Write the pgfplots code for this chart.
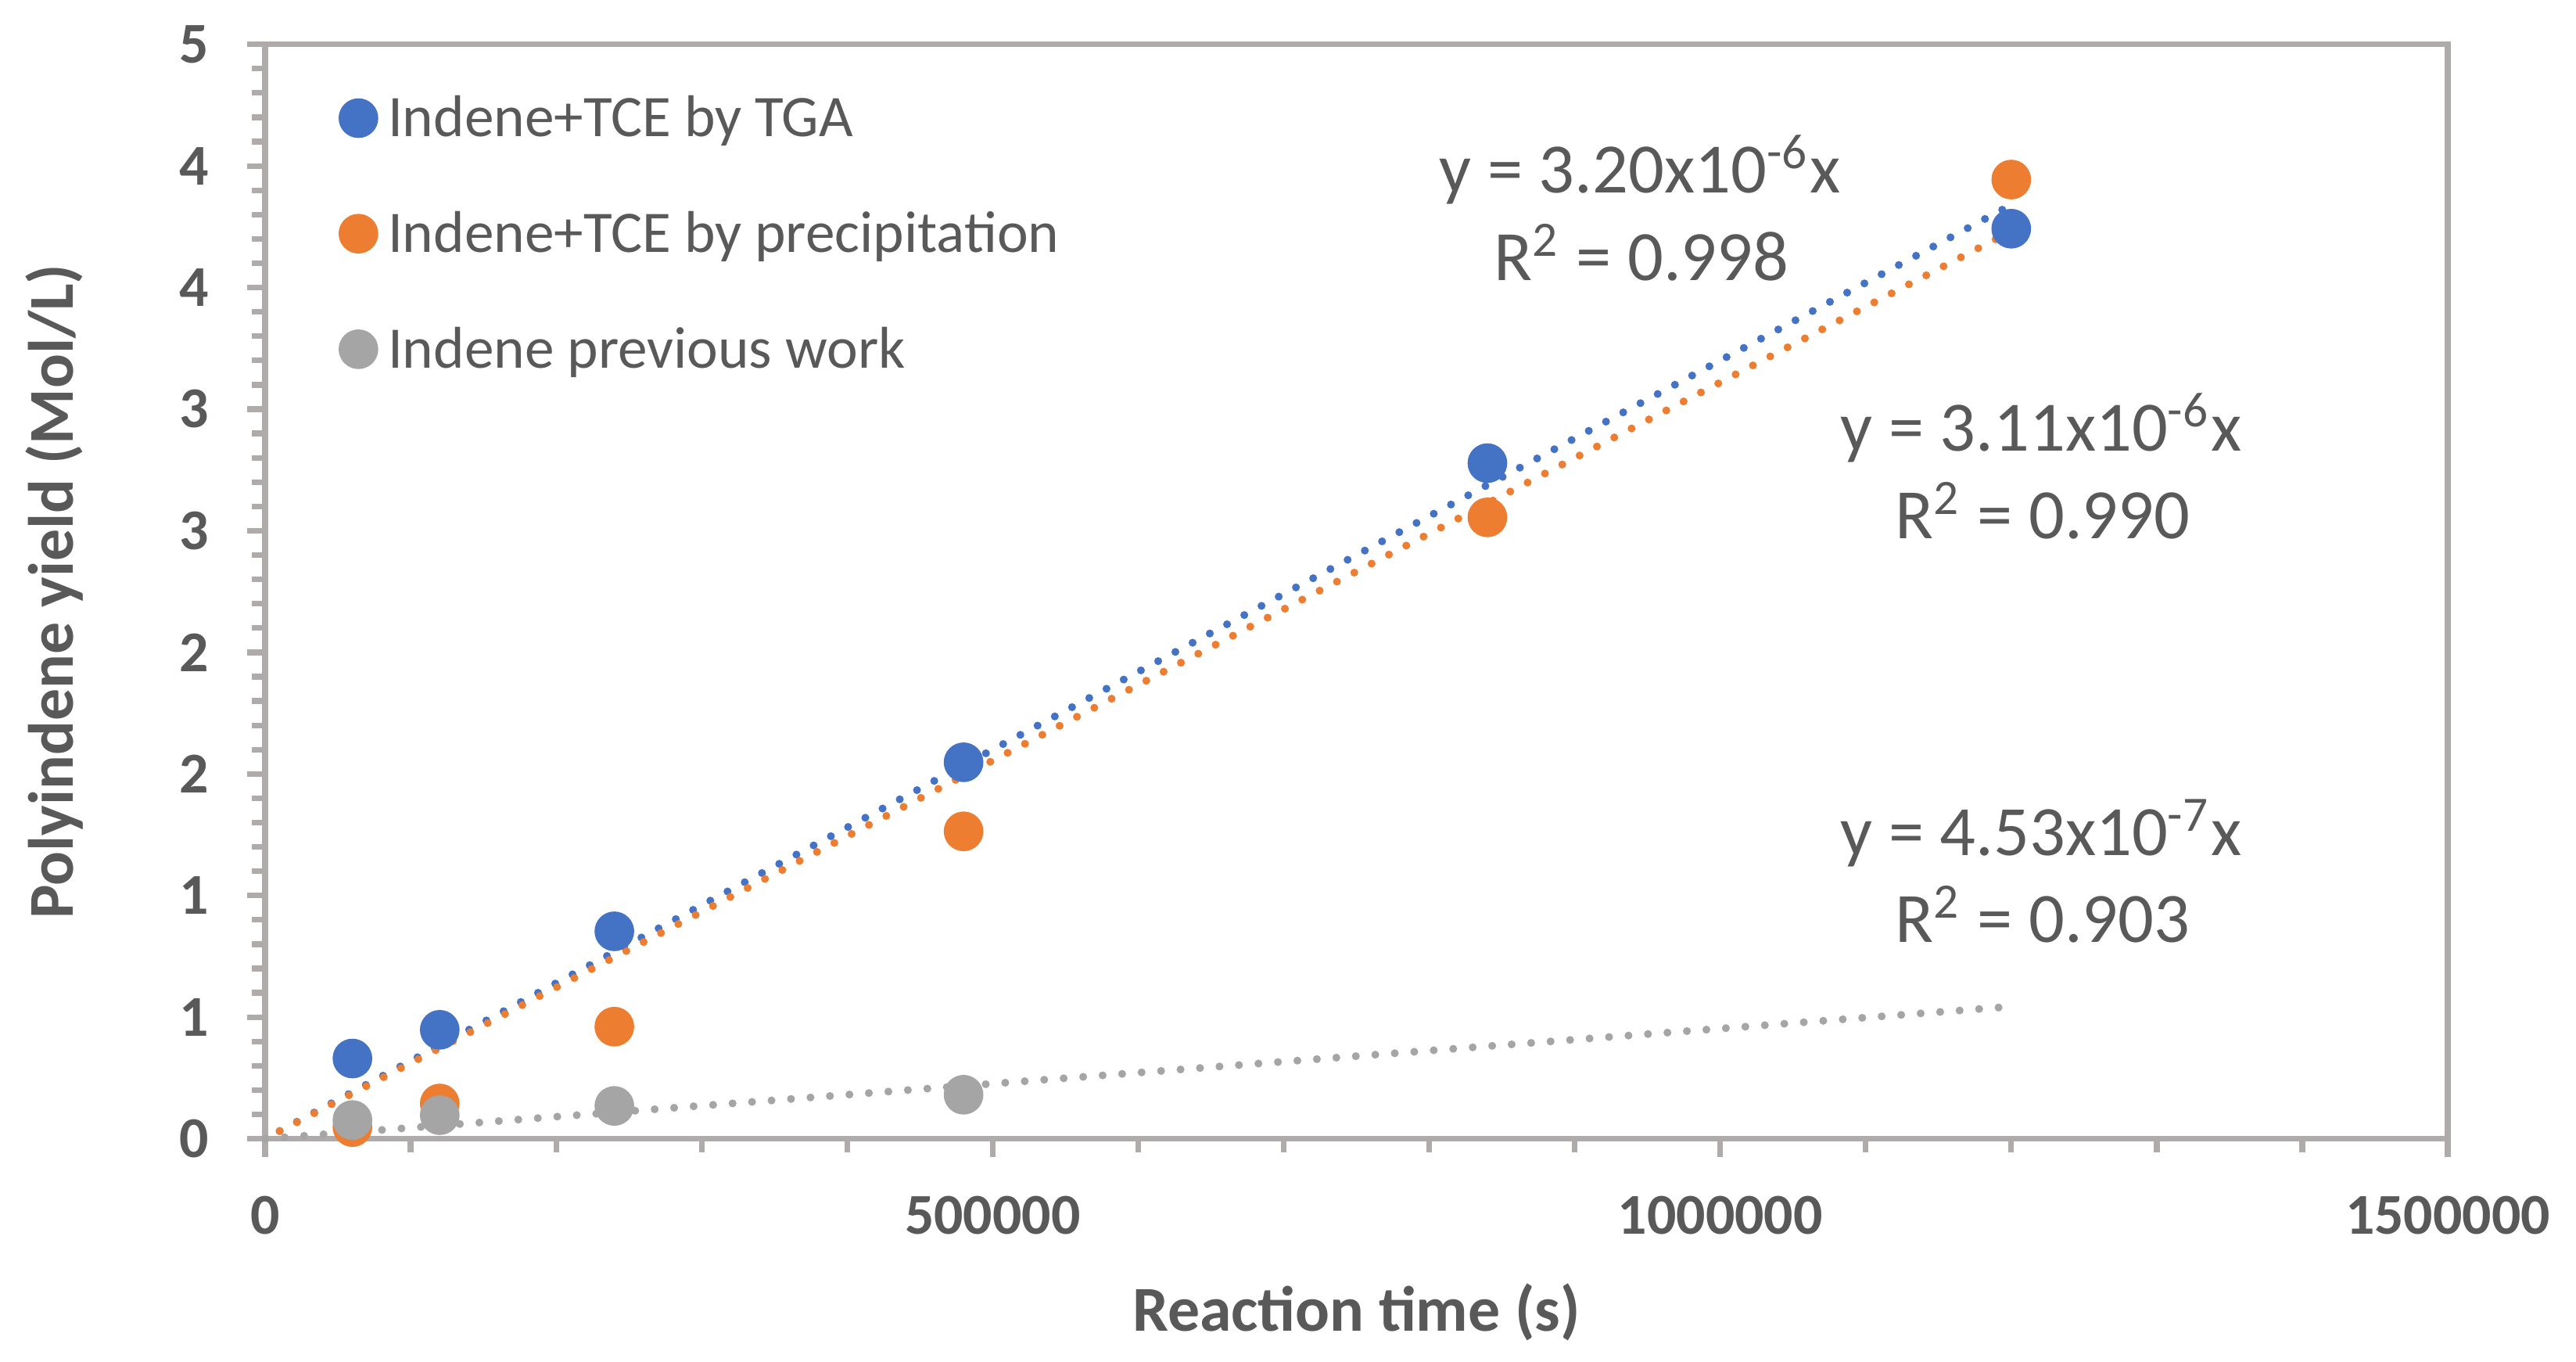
\documentclass[border=0pt]{standalone}
\usepackage{fontspec}
\setmainfont{Carlito}
\usepackage{pgfplots}
\pgfplotsset{compat=1.18}
\definecolor{cblue}{HTML}{4472C4}
\definecolor{corange}{HTML}{ED7D31}
\definecolor{cgray}{HTML}{A5A5A5}
\definecolor{ctext}{HTML}{595959}
\definecolor{caxis}{HTML}{AFABAB}
\begin{document}
\begin{tikzpicture}
\begin{axis}[
  at={(0,0)}, anchor=south west,
  width=385.52pt, height=193.24pt, scale only axis,
  xmin=0, xmax=1500000, ymin=0, ymax=4.5,
  clip=false,
  scaled x ticks=false, scaled y ticks=false,
  axis line style={caxis, line width=1pt},
  tick style={caxis, line width=1pt},
  tick align=outside,
  major tick length=3.2pt, minor tick length=2.4pt,
  tick pos=left,
  xtick={0,500000,1000000,1500000},
  xticklabels={0,500000,1000000,1500000},
  minor xtick={100000,200000,300000,400000,600000,700000,800000,900000,1100000,1200000,1300000,1400000},
  ytick={0,0.5,1,1.5,2,2.5,3,3.5,4,4.5},
  yticklabels={0,1,1,2,2,3,3,4,4,5},
  minor ytick={0.1,0.2,0.3,0.4,0.6,0.7,0.8,0.9,1.1,1.2,1.3,1.4,1.6,1.7,1.8,1.9,2.1,2.2,2.3,2.4,2.6,2.7,2.8,2.9,3.1,3.2,3.3,3.4,3.6,3.7,3.8,3.9,4.1,4.2,4.3,4.4},
  ticklabel style={font=\bfseries\fontsize{10.2}{12}\selectfont, text=ctext, inner sep=0pt},
  xticklabel style={anchor=base, yshift=-13.65pt},
  yticklabel style={anchor=east, xshift=-6.6pt},
  xlabel={Reaction time (s)},
  ylabel={Polyindene yield (Mol/L)},
  label style={font=\bfseries\fontsize{11.3}{13}\selectfont, text=ctext, inner sep=0pt},
  xlabel style={at={(axis description cs:0.5,-0.1760)}, anchor=base},
  ylabel style={at={(axis description cs:-0.0880,0.5)}, anchor=base, rotate=0},
  legend style={at={(rel axis cs:0.0342,0.9517)}, anchor=north west, draw=none, fill=none,
    inner sep=0pt, outer sep=0pt, row sep=11.4pt, column sep=1.9pt,
    font=\fontsize{10.4}{12}\selectfont, text=ctext,
    nodes={inner sep=0pt, text height=7pt, text depth=2pt}},
  legend cell align=left,
  legend image code/.code={\draw[#1] plot coordinates {(0pt,0.8pt)};},
]
\addplot[only marks, mark=*, mark size=3.3pt, color=cblue, mark options={draw=cblue, fill=cblue}] coordinates {
(60000,0.330) (120000,0.448) (240000,0.853) (480000,1.548) (840000,2.778) (1200000,3.742)};
\addlegendentry{Indene+TCE by TGA}
\addplot[only marks, mark=*, mark size=3.3pt, color=corange, mark options={draw=corange, fill=corange}] coordinates {
(60000,0.048) (120000,0.145) (240000,0.461) (480000,1.264) (840000,2.555) (1200000,3.944)};
\addlegendentry{Indene+TCE by precipitation}
\addplot[only marks, mark=*, mark size=3.3pt, color=cgray, mark options={draw=cgray, fill=cgray}] coordinates {
(60000,0.077) (120000,0.097) (240000,0.135) (480000,0.181)};
\addlegendentry{Indene previous work}
% trendlines (y = a x)
\addplot[forget plot, cblue, line width=1.4pt, line cap=round, dash pattern=on 0pt off 3.45pt] coordinates {(10000,0.032) (1200000,3.840)};
\addplot[forget plot, corange, line width=1.4pt, line cap=round, dash pattern=on 0pt off 3.45pt] coordinates {(10000,0.0311) (1200000,3.732)};
\addplot[forget plot, cgray, line width=1.4pt, line cap=round, dash pattern=on 0pt off 3.45pt] coordinates {(0,0) (1200000,0.5436)};
% trendline equations
\node[anchor=base, text=ctext, font=\fontsize{12.5}{15}\selectfont, inner sep=0pt] at (axis cs:944800,3.889) {y = 3.20x10\textsuperscript{-6}x};
\node[anchor=base, text=ctext, font=\fontsize{12.5}{15}\selectfont, inner sep=0pt] at (axis cs:945900,3.529) {R\textsuperscript{2} = 0.998};
\node[anchor=base, text=ctext, font=\fontsize{12.5}{15}\selectfont, inner sep=0pt] at (axis cs:1220500,2.827) {y = 3.11x10\textsuperscript{-6}x};
\node[anchor=base, text=ctext, font=\fontsize{12.5}{15}\selectfont, inner sep=0pt] at (axis cs:1221600,2.467) {R\textsuperscript{2} = 0.990};
\node[anchor=base, text=ctext, font=\fontsize{12.5}{15}\selectfont, inner sep=0pt] at (axis cs:1220500,1.164) {y = 4.53x10\textsuperscript{-7}x};
\node[anchor=base, text=ctext, font=\fontsize{12.5}{15}\selectfont, inner sep=0pt] at (axis cs:1221600,0.807) {R\textsuperscript{2} = 0.903};
\end{axis}
\pgfresetboundingbox
\useasboundingbox (-46.83pt,-39.37pt) rectangle (408.17pt,201.07pt);
\end{tikzpicture}
\end{document}
